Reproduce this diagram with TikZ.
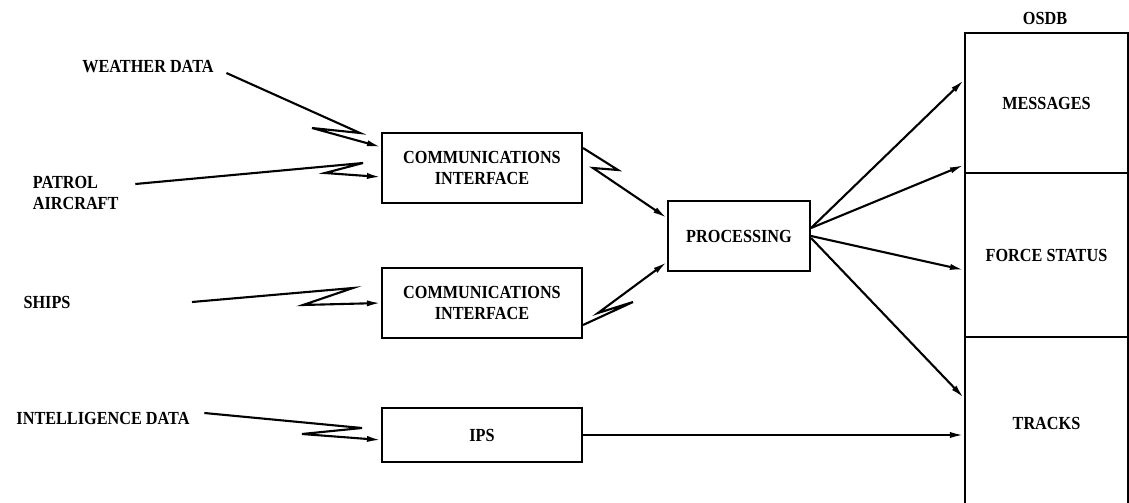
\documentclass[tikz,border=0pt]{standalone}
\usepackage{fontspec}
\setmainfont{Liberation Serif}[FakeStretch=0.88]
\usetikzlibrary{arrows.meta,positioning}
\tikzset{
    lbl/.style={font=\bfseries\fontsize{10.5}{12}\selectfont, inner sep=1pt},
    blk/.style={draw, line width=1.2pt, inner sep=0pt, align=center,
        font=\bfseries\fontsize{10.5}{12}\selectfont},
    >={Latex[length=8pt,width=3.5pt]}
}

\begin{document}
\begin{tikzpicture}[x=0.02cm,y=-0.02cm,line width=1.2pt]
        \useasboundingbox (0,0) rectangle (1129,503);
        % sources
        \node[lbl] (wd) at (148,67) {WEATHER DATA};
        \node[lbl,align=left,anchor=west] (pa) at (30,193) {PATROL\\AIRCRAFT};
        \node[lbl] (sh) at (47,302) {SHIPS};
        \node[lbl] (id) at (103,418) {INTELLIGENCE DATA};
        % boxes
        \node[blk,minimum width=4cm,minimum height=1.4cm] (ci1) at (482,168) {COMMUNICATIONS\\INTERFACE};
        \node[blk,minimum width=4cm,minimum height=1.4cm] (ci2) at (482,303) {COMMUNICATIONS\\INTERFACE};
        \node[blk,minimum width=4cm,minimum height=1.08cm] (ips) at (482,435) {IPS};
        \node[blk,minimum width=2.84cm,minimum height=1.4cm] (proc) at (739,236) {PROCESSING};
        % osdb
        \node[blk,minimum width=3.26cm,minimum height=2.8cm] (msg) at (1046.5,103) {MESSAGES};
        \node[blk,minimum width=3.26cm,minimum height=3.28cm] (force) at (1046.5,255) {FORCE STATUS};
        \node[blk,minimum width=3.26cm,minimum height=3.46cm] (tracks) at (1046.5,423.5) {TRACKS};
        \node[lbl] (osdb) at (1045,18) {OSDB};
        % radio links in
        \draw[->] ([shift={(10,6)}]wd.east) -- (360,133) -- (312,128) -- ([yshift=0.42cm]ci1.west);
        \draw[->] ([shift={(14,-9)}]pa.east) -- (363,163) -- (325,173) -- ([yshift=-0.18cm]ci1.west);
        \draw[->] ([xshift=0.2cm]sh.east -| 182,0) -- (353,288) -- (303,305) -- (ci2.west);
        \draw[->] ([shift={(12,-5)}]id.east) -- (362,428) -- (302,434) -- ([yshift=-0.1cm]ips.west);
        % radio links out
        \draw[->] ([yshift=0.4cm]ci1.east) -- (618,170) -- (593,168) -- ([yshift=0.36cm]proc.west);
        \draw[->] ([yshift=-0.44cm]ci2.east) -- (633,302) -- (598,313) -- ([yshift=-0.52cm]proc.west);
        % to osdb
        \draw[->] ([yshift=0.16cm]proc.east) -- ([yshift=0.46cm]msg.west);
        \draw[->] ([yshift=0.16cm]proc.east) -- ([yshift=0.14cm]force.north west);
        \draw[->] (proc.east) -- ([yshift=-0.3cm]force.west);
        \draw[->] ([yshift=-0.04cm]proc.east) -- ([yshift=0.51cm]tracks.west);
        \draw[->] (ips.east) -- (ips.east -| tracks.west);
    \end{tikzpicture}
\end{document}
